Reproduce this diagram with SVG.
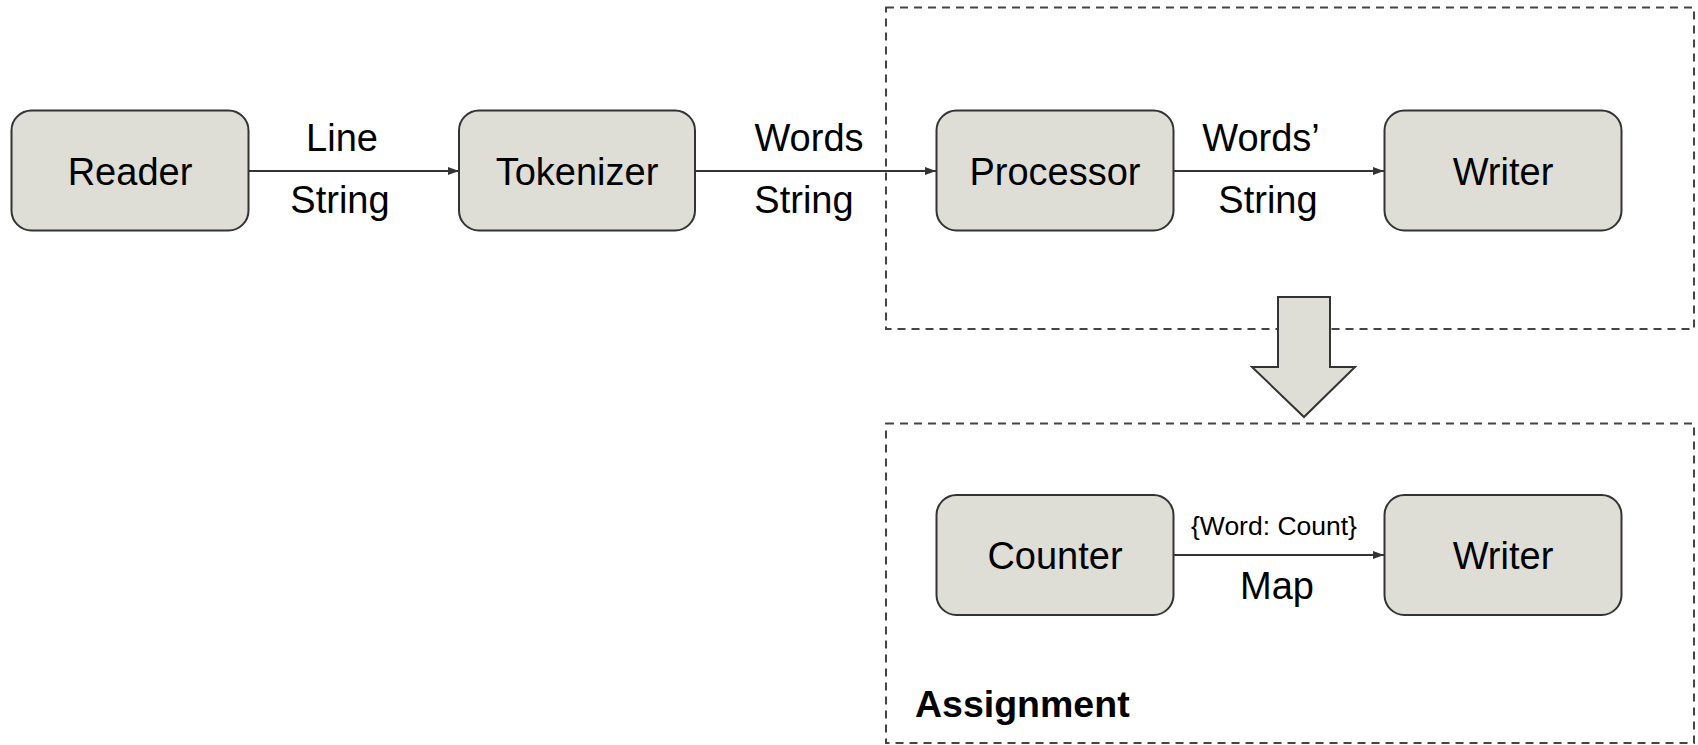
<svg xmlns="http://www.w3.org/2000/svg" width="1698" height="745" viewBox="0 0 1698 745">
  <style>
    .node { fill: #deddd6; stroke: #333333; stroke-width: 2; }
    .group { fill: none; stroke: #444444; stroke-width: 2; stroke-dasharray: 8 6; }
    .label { font-family: "Liberation Sans", Arial, sans-serif; font-size: 38px; fill: #000000; text-anchor: middle; }
    .small { font-size: 26.5px; }
    .title { font-family: "Liberation Sans", Arial, sans-serif; font-size: 37.5px; font-weight: bold; fill: #000000; }
    .edge { fill: none; stroke: #333333; stroke-width: 2; }
  </style>
  <defs>
    <marker id="arrow" markerWidth="12" markerHeight="10" refX="11" refY="5" orient="auto" markerUnits="userSpaceOnUse">
      <path d="M0,1 L11,5 L0,9 Z" fill="#333333"/>
    </marker>
  </defs>

  <rect width="1698" height="745" fill="#ffffff"/>

  <!-- dashed group frames -->
  <g id="pipeline-frame">
    <rect class="group" x="886" y="7.5" width="808" height="321.5"/>
  </g>
  <g id="assignment-frame">
    <rect class="group" x="886" y="423.5" width="808" height="319.5"/>
    <text class="title" x="915" y="717">Assignment</text>
  </g>

  <!-- connectors -->
  <g id="connectors">
    <line class="edge" x1="248" y1="171" x2="459" y2="171" marker-end="url(#arrow)"/>
    <line class="edge" x1="695" y1="171" x2="936" y2="171" marker-end="url(#arrow)"/>
    <line class="edge" x1="1173" y1="171" x2="1384" y2="171" marker-end="url(#arrow)"/>
    <line class="edge" x1="1174" y1="555" x2="1384" y2="555" marker-end="url(#arrow)"/>
    <text class="label" x="342" y="151">Line</text>
    <text class="label" x="340" y="213">String</text>
    <text class="label" x="809" y="151">Words</text>
    <text class="label" x="804" y="213">String</text>
    <text class="label" x="1261" y="151">Words’</text>
    <text class="label" x="1268" y="213">String</text>
    <text class="label small" x="1274" y="535">{Word: Count}</text>
    <text class="label" x="1277" y="599">Map</text>
  </g>

  <!-- transformation arrow -->
  <g id="transform-arrow">
    <polygon class="node" points="1278,297 1330,297 1330,367 1355,367 1304,417 1252,367 1278,367"/>
  </g>

  <!-- nodes -->
  <g id="reader">
    <rect class="node" x="11.5" y="110.5" width="237" height="120" rx="20" ry="20"/>
    <text class="label" x="130" y="184.5">Reader</text>
  </g>
  <g id="tokenizer">
    <rect class="node" x="459" y="110.5" width="236" height="120" rx="20" ry="20"/>
    <text class="label" x="577" y="184.5">Tokenizer</text>
  </g>
  <g id="processor">
    <rect class="node" x="936.5" y="110.5" width="237" height="120" rx="20" ry="20"/>
    <text class="label" x="1055" y="184.5">Processor</text>
  </g>
  <g id="writer">
    <rect class="node" x="1384.5" y="110.5" width="237" height="120" rx="20" ry="20"/>
    <text class="label" x="1503" y="184.5">Writer</text>
  </g>
  <g id="counter">
    <rect class="node" x="936.5" y="495" width="237" height="120" rx="20" ry="20"/>
    <text class="label" x="1055" y="568.5">Counter</text>
  </g>
  <g id="writer-2">
    <rect class="node" x="1384.5" y="495" width="237" height="120" rx="20" ry="20"/>
    <text class="label" x="1503" y="568.5">Writer</text>
  </g>
</svg>
